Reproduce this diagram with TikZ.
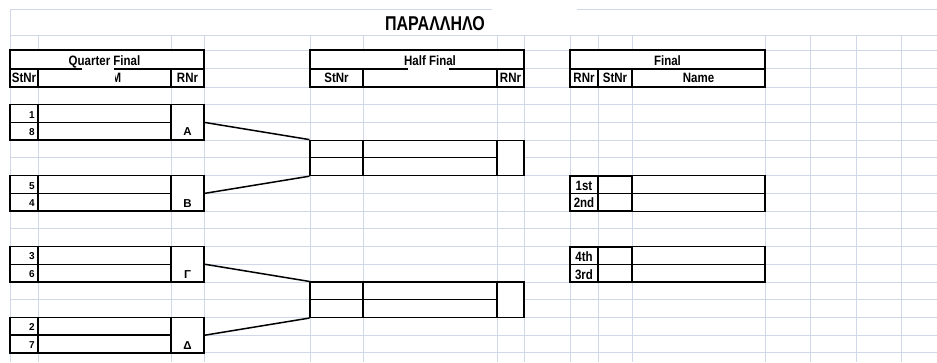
\documentclass[tikz,border=0pt]{standalone}
\usepackage{fontspec}
\usepackage{graphicx}
\setmainfont{Liberation Sans}
\definecolor{sheetgray}{RGB}{208,215,230}
\newcommand{\tallbox}[1]{\scalebox{1}[1.25]{#1}}
\newcommand{\hdtext}[1]{\scalebox{1}[1.18]{#1}}
\tikzset{
  sheet/.style={sheetgray,line width=0.9pt},
  headbox/.style={line width=2pt},
  cellbox/.style={line width=1.5pt},
  thinbox/.style={line width=1.1pt},
  rnrcell/.style={draw,line width=1.5pt,fill=white,minimum width=33pt,minimum height=35.5pt,inner sep=0pt},
  semibox/.style={draw,line width=1.1pt,fill=white,minimum width=214pt,minimum height=35.5pt,inner sep=0pt},
  link/.style={line width=1.5pt},
  hdr/.style={font=\bfseries\fontsize{11.5}{13}\selectfont,inner sep=0pt,anchor=base},
  num/.style={font=\bfseries\fontsize{10}{12}\selectfont,inner sep=0pt,anchor=base east},
  grp/.style={font=\bfseries\fontsize{11.5}{13}\selectfont,inner sep=0pt,anchor=base},
}
\begin{document}
\begin{tikzpicture}[x=1pt,y=-1pt]
  \useasboundingbox[fill=white] (0,0) rectangle (937,362);
  % sheet grid
  \draw[sheet] (10,9) -- (492,9);
  \draw[sheet] (577,9) -- (937,9);
  \draw[sheet] (10,35) -- (937,35);
  \draw[sheet] (10,50) -- (937,50);
  \draw[sheet] (10,68.5) -- (937,68.5);
  \draw[sheet] (10,87) -- (937,87);
  \draw[sheet] (10,104.7) -- (937,104.7);
  \draw[sheet] (10,122.5) -- (937,122.5);
  \draw[sheet] (10,140.2) -- (937,140.2);
  \draw[sheet] (10,157.9) -- (937,157.9);
  \draw[sheet] (10,175.6) -- (937,175.6);
  \draw[sheet] (10,193.4) -- (937,193.4);
  \draw[sheet] (10,211.1) -- (937,211.1);
  \draw[sheet] (10,228.8) -- (937,228.8);
  \draw[sheet] (10,246.5) -- (937,246.5);
  \draw[sheet] (10,264.3) -- (937,264.3);
  \draw[sheet] (10,282) -- (937,282);
  \draw[sheet] (10,299.7) -- (937,299.7);
  \draw[sheet] (10,317.5) -- (937,317.5);
  \draw[sheet] (10,335.2) -- (937,335.2);
  \draw[sheet] (10,352.9) -- (937,352.9);
  \draw[sheet] (10,9) -- (10,362);
  \draw[sheet] (38,35) -- (38,362);
  \draw[sheet] (171,35) -- (171,362);
  \draw[sheet] (204,35) -- (204,362);
  \draw[sheet] (310,35) -- (310,362);
  \draw[sheet] (363,35) -- (363,362);
  \draw[sheet] (497,35) -- (497,362);
  \draw[sheet] (524,35) -- (524,362);
  \draw[sheet] (570,35) -- (570,362);
  \draw[sheet] (598,35) -- (598,362);
  \draw[sheet] (632,35) -- (632,362);
  \draw[sheet] (765,35) -- (765,362);
  \draw[sheet] (810,35) -- (810,362);
  \draw[sheet] (856,35) -- (856,362);
  \draw[sheet] (901,35) -- (901,362);

  \node[font=\bfseries\fontsize{16}{18}\selectfont,inner sep=0pt,anchor=base] (title) at (435,30) {\tallbox{ΠΑΡΑΛΛΗΛΟ}};

  % quarter final header
  \fill[white] (10,50) rectangle (204,87);
  \draw[headbox] (10,50) rectangle (204,87);
  \draw[headbox] (10,68.5) -- (82,68.5);
  \draw[headbox] (114,68.5) -- (204,68.5);
  \draw[headbox] (38,68.5) -- (38,87);
  \draw[headbox] (171,68.5) -- (171,87);
  \node[hdr] (qfhead) at (104.5,65) {\hdtext{Quarter Final}};
  \node[hdr] (qfstnr) at (24,82) {\hdtext{StNr}};
  \node[hdr] (qfrnr) at (187.5,82) {\hdtext{RNr}};
  \begin{scope}
    \clip (115.5,70) rectangle (126,86);
    \node[hdr] (qfname) at (116.5,82) {\hdtext{M}};
  \end{scope}

  % half final header
  \fill[white] (310,50) rectangle (524,87);
  \draw[headbox] (310,50) rectangle (524,87);
  \draw[headbox] (310,68.5) -- (408,68.5);
  \draw[headbox] (449,68.5) -- (524,68.5);
  \draw[headbox] (363,68.5) -- (363,87);
  \draw[headbox] (497,68.5) -- (497,87);
  \node[hdr] (hfhead) at (430,65) {\hdtext{Half Final}};
  \node[hdr] (hfstnr) at (336.5,82) {\hdtext{StNr}};
  \node[hdr] (hfrnr) at (510.5,82) {\hdtext{RNr}};

  % final header
  \fill[white] (570,50) rectangle (765,87);
  \draw[headbox] (570,50) rectangle (765,87);
  \draw[headbox] (570,68.5) -- (765,68.5);
  \draw[headbox] (598,68.5) -- (598,87);
  \draw[headbox] (632,68.5) -- (632,87);
  \node[hdr] (fhead) at (667.5,65) {\hdtext{Final}};
  \node[hdr] (frnr) at (584,82) {\hdtext{RNr}};
  \node[hdr] (fstnr) at (615,82) {\hdtext{StNr}};
  \node[hdr] (fname) at (698.5,82) {\hdtext{Name}};

  % quarter final pairs
  \draw[cellbox] (10,104.7) rectangle (171,140.2);
  \draw[cellbox] (38,104.7) -- (38,140.2);
  \draw[cellbox] (10,122.5) -- (171,122.5);
  \node[rnrcell] (cellA) at (187.5,122.45) {};
  \node[num] (n1) at (35,118) {1};
  \node[num] (n8) at (35,135.7) {8};
  \node[grp] (A) at (187.5,135.5) {A};

  \draw[cellbox] (10,175.6) rectangle (171,211.1);
  \draw[cellbox] (38,175.6) -- (38,211.1);
  \draw[cellbox] (10,193.4) -- (171,193.4);
  \node[rnrcell] (cellB) at (187.5,193.35) {};
  \node[num] (n5) at (35,189) {5};
  \node[num] (n4) at (35,206.6) {4};
  \node[grp] (B) at (187.5,207) {B};

  \draw[cellbox] (10,246.5) rectangle (171,282);
  \draw[cellbox] (38,246.5) -- (38,282);
  \draw[cellbox] (10,264.3) -- (171,264.3);
  \node[rnrcell] (cellG) at (187.5,264.25) {};
  \node[num] (n3) at (35,259.8) {3};
  \node[num] (n6) at (35,277.5) {6};
  \node[grp] (G) at (187.5,278) {Γ};

  \draw[cellbox] (10,317.5) rectangle (171,352.9);
  \draw[cellbox] (38,317.5) -- (38,352.9);
  \draw[cellbox] (10,335.2) -- (171,335.2);
  \node[rnrcell] (cellD) at (187.5,335.2) {};
  \node[num] (n2) at (35,330.7) {2};
  \node[num] (n7) at (35,348.4) {7};
  \node[grp] (D) at (187.5,349) {Δ};

  % half final boxes
  \node[semibox] (hf1) at (417,157.9) {};
  \draw[thinbox] (363,140.2) -- (363,175.6);
  \draw[thinbox] (497,140.2) -- (497,175.6);
  \draw[thinbox] (310,157.9) -- (497,157.9);
  \node[semibox] (hf2) at (417,299.75) {};
  \draw[thinbox] (363,282) -- (363,317.5);
  \draw[thinbox] (497,282) -- (497,317.5);
  \draw[thinbox] (310,299.7) -- (497,299.7);

  \draw[link] (cellA.east) -- (hf1.north west);
  \draw[link] (cellB.east) -- (hf1.south west);
  \draw[link] (cellG.east) -- (hf2.north west);
  \draw[link] (cellD.east) -- (hf2.south west);

  % final places
  \draw[thinbox] (632,175.6) rectangle (765,211.1);
  \draw[thinbox] (632,193.4) -- (765,193.4);
  \draw[thinbox] (598,175.6) -- (598,211.1);
  \draw[thinbox] (570,193.4) -- (632,193.4);
  \draw[headbox] (570,175.6) rectangle (632,211.1);
  \node[hdr] (first) at (584,190) {\hdtext{1st}};
  \node[hdr] (second) at (584,207.5) {\hdtext{2nd}};

  \draw[thinbox] (632,246.5) rectangle (765,282);
  \draw[thinbox] (632,264.3) -- (765,264.3);
  \draw[thinbox] (598,246.5) -- (598,282);
  \draw[thinbox] (570,264.3) -- (632,264.3);
  \draw[headbox] (570,246.5) rectangle (632,282);
  \node[hdr] (fourth) at (584,261.5) {\hdtext{4th}};
  \node[hdr] (third) at (584,279) {\hdtext{3rd}};
\end{tikzpicture}
\end{document}
